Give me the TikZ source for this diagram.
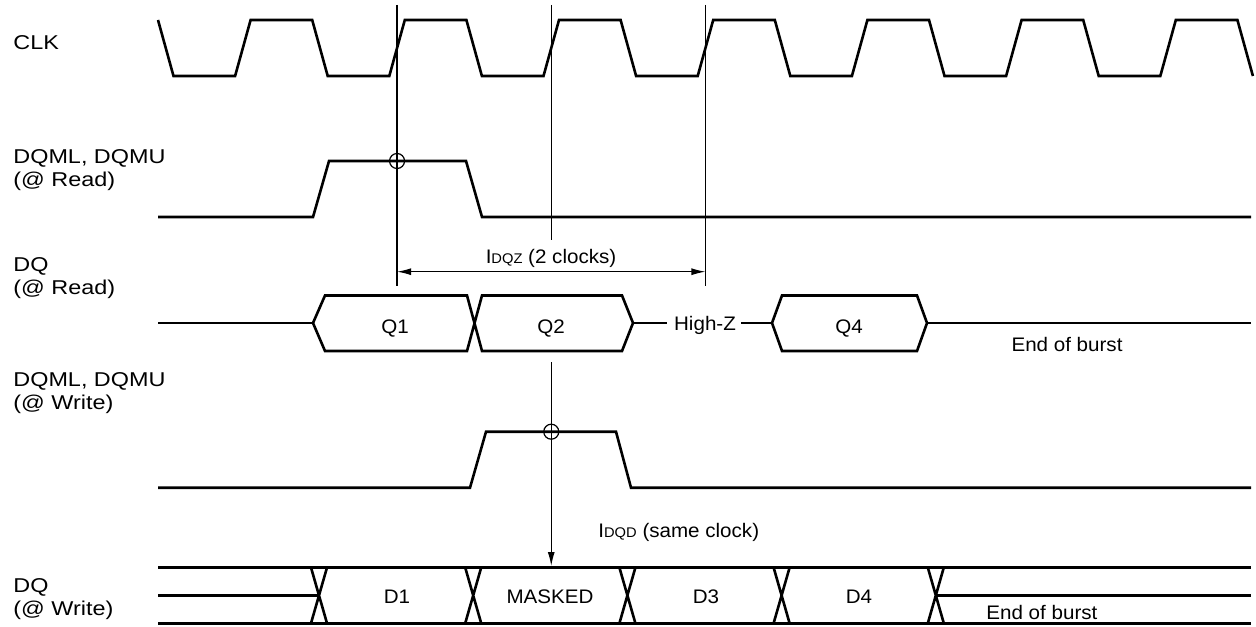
\documentclass[tikz,border=0pt]{standalone}
\usepackage{fontspec}
\setmainfont{Liberation Sans}
\newfontfamily\sigfont[FakeStretch=1.17]{Liberation Sans}
\newfontfamily\txtfont[FakeStretch=1.05]{Liberation Sans}
\usetikzlibrary{arrows.meta}

\begin{document}
\begin{tikzpicture}[x=0.5pt,y=-0.5pt,
            sig/.style={line width=1.3pt},
            guide/.style={line width=0.6pt},
            lab/.style={font=\sigfont\fontsize{10}{11.5}\selectfont,align=left,anchor=base west,inner sep=0},
            txt/.style={font=\txtfont\fontsize{9.8}{11}\selectfont,anchor=base,inner sep=0},
            >={Latex[length=7pt,width=3.5pt]}
          ]
          \useasboundingbox (0,0) rectangle (1256,626);

          %labels (base = last line)
          \node[lab] (lclk) at (13,50) {CLK};
          \node[lab] (ldqmr) at (13,186) {DQML, DQMU\\(@ Read)};
          \node[lab] (ldqr) at (13,294) {DQ\\(@ Read)};
          \node[lab] (ldqmw) at (13,409.5) {DQML, DQMU\\(@ Write)};
          \node[lab] (ldqw) at (13,615) {DQ\\(@ Write)};

          %clock
          \draw[sig] (158,20) \foreach \k in {0,...,6}{
              -- ++(15.5,56) -- ++(61.6,0) -- ++(15.5,-56) -- ++(61.6,0)} -- ++(15.5,56);

          %edge markers
          \coordinate (edgeA) at (397.05,5);
          \coordinate (edgeAb) at (397.05,286);
          \coordinate (edgeB) at (551.25,5);
          \coordinate (edgeBb) at (551.25,240);
          \coordinate (edgeC) at (705.45,5);
          \coordinate (edgeCb) at (705.45,286);
          \draw[guide] (edgeA) -- (edgeAb);
          \draw[guide] (edgeB) -- (edgeBb);
          \draw[guide] (edgeC) -- (edgeCb);

          %DQML, DQMU read
          \draw[sig] (158,217) -- (313,217) -- (329,161) -- (466,161) -- (482,217) -- (1251,217);
          \draw[guide] (397.05,161) circle[radius=7.5];

          %tDQZ
          \coordinate (dqzL) at (397.05,271.7);
          \coordinate (dqzR) at (705.45,271.7);
          \draw[guide,<->] (dqzL) -- (dqzR);
          \node[txt] (tdqz) at (551,263.5) {I{\fontsize{7}{8}\selectfont DQZ} (2 clocks)};

          %DQ read
          \draw[sig] (158,323) -- (313,323);
          \draw[sig] (313,323) -- (325,295.5) -- (467,295.5) -- (482,351) -- (622,351) -- (633,323)
              -- (622,295.5) -- (482,295.5) -- (467,351) -- (325,351) -- cycle;
          \draw[sig] (633,323) -- (667,323);
          \draw[sig] (741,323) -- (772,323);
          \draw[sig] (772,323) -- (782,295.5) -- (917,295.5) -- (927,323) -- (917,351) -- (782,351) -- cycle;
          \draw[sig] (927,323) -- (1251,323);
          \node[txt] (q1) at (395,333) {Q1};
          \node[txt] (q2) at (551,333) {Q2};
          \node[txt] (hiz) at (705,330) {High-Z};
          \node[txt] (q4) at (849,333) {Q4};
          \node[txt] (eobr) at (1067,351) {End of burst};

          %DQML, DQMU write
          \draw[sig] (158,487.7) -- (470,487.7) -- (486,431.7) -- (616,431.7) -- (631,487.7) -- (1251,487.7);
          \draw[guide] (551.25,431.7) circle[radius=7.5];

          %tDQD
          \coordinate (dqdT) at (551.25,362);
          \coordinate (dqdB) at (551.25,566);
          \draw[guide,->] (dqdT) -- (dqdB);
          \node[txt,anchor=base west] (tdqd) at (598,537) {I{\fontsize{7}{8}\selectfont DQD} (same clock)};

          %DQ write
          \draw[sig] (158,567.5) -- (1251,567.5);
          \draw[sig] (158,623.3) -- (1251,623.3);
          \draw[sig] (158,595.5) -- (319,595.5);
          \draw[sig] (935.8,595.5) -- (1251,595.5);
          \foreach \c in {319,473.2,627.4,781.6,935.8}
              \draw[sig] (\c-8,567.5) -- (\c+8,623.3) (\c-8,623.3) -- (\c+8,567.5);
          \node[txt] (d1) at (397,603) {D1};
          \node[txt] (dm) at (550,603) {MASKED};
          \node[txt] (d3) at (706,603) {D3};
          \node[txt] (d4) at (859,603) {D4};
          \node[txt,anchor=base west] (eobw) at (986,619) {End of burst};

      \end{tikzpicture}
\end{document}
